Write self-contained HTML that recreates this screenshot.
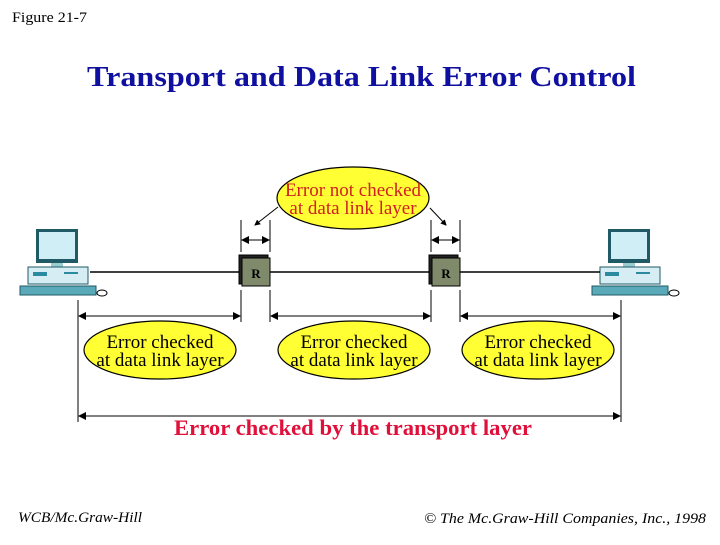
<!DOCTYPE html>
<html><head><meta charset="utf-8"><style>
body{margin:0;background:#fff;width:720px;height:540px;overflow:hidden}
</style></head><body>
<svg width="720" height="540" xmlns="http://www.w3.org/2000/svg" font-family="Liberation Serif, serif">
<defs>
<marker id="a" markerWidth="8" markerHeight="8" refX="7" refY="4" orient="auto-start-reverse" markerUnits="userSpaceOnUse"><path d="M0,0 L8,4 L0,8 z" fill="#000"/></marker>
<marker id="s" markerWidth="6" markerHeight="6" refX="5" refY="3" orient="auto" markerUnits="userSpaceOnUse"><path d="M0,0 L6,3 L0,6 z" fill="#000"/></marker>
<g id="pc">
<rect x="16" y="0" width="42" height="34" fill="#1f5a66"/>
<rect x="19" y="3" width="36" height="27" fill="#cfeef5"/>
<rect x="31" y="34" width="12" height="4" fill="#9cc"/>
<rect x="8" y="38" width="60" height="17" fill="#d6eef3" stroke="#1f5a66"/>
<rect x="13" y="43" width="14" height="4" fill="#2a8aa0"/>
<rect x="44" y="43" width="14" height="2" fill="#2a8aa0"/>
<rect x="0" y="57" width="76" height="9" fill="#5aa9b8" stroke="#1f5a66"/>
<ellipse cx="82" cy="64" rx="5" ry="3" fill="#fff" stroke="#000"/>
</g>
</defs>
<text x="12" y="22" font-size="15" textLength="75" lengthAdjust="spacingAndGlyphs">Figure 21-7</text>
<text x="87" y="86" font-size="29" font-weight="bold" fill="#1010a0" textLength="549" lengthAdjust="spacingAndGlyphs">Transport and Data Link Error Control</text>

<use href="#pc" x="20" y="229"/>
<use href="#pc" x="592" y="229"/>
<line x1="90" y1="272" x2="600" y2="272" stroke="#000" stroke-width="1.5"/>
<g stroke="#000" stroke-width="1">
<rect x="239" y="255" width="29" height="29" fill="#222"/>
<rect x="242" y="258" width="28" height="28" fill="#7f8a6a" stroke="#000"/>
<rect x="429" y="255" width="29" height="29" fill="#222"/>
<rect x="432" y="258" width="28" height="28" fill="#7f8a6a" stroke="#000"/>
</g>
<text x="256" y="278" font-size="13" font-weight="bold" text-anchor="middle">R</text>
<text x="446" y="278" font-size="13" font-weight="bold" text-anchor="middle">R</text>

<g stroke="#000" stroke-width="1">
<line x1="241" y1="220" x2="241" y2="252"/><line x1="270" y1="220" x2="270" y2="252"/>
<line x1="431" y1="220" x2="431" y2="252"/><line x1="460" y1="220" x2="460" y2="252"/>
<line x1="241" y1="290" x2="241" y2="322"/><line x1="270" y1="290" x2="270" y2="322"/>
<line x1="431" y1="290" x2="431" y2="322"/><line x1="460" y1="290" x2="460" y2="322"/>
<line x1="78" y1="300" x2="78" y2="422"/><line x1="621" y1="300" x2="621" y2="422"/>
<line x1="242" y1="240" x2="269" y2="240" marker-start="url(#a)" marker-end="url(#a)"/>
<line x1="432" y1="240" x2="459" y2="240" marker-start="url(#a)" marker-end="url(#a)"/>
<line x1="79" y1="316" x2="240" y2="316" marker-start="url(#a)" marker-end="url(#a)"/>
<line x1="271" y1="316" x2="430" y2="316" marker-start="url(#a)" marker-end="url(#a)"/>
<line x1="461" y1="316" x2="620" y2="316" marker-start="url(#a)" marker-end="url(#a)"/>
<line x1="79" y1="416" x2="620" y2="416" marker-start="url(#a)" marker-end="url(#a)"/>
<line x1="278" y1="207" x2="255" y2="225" marker-end="url(#s)"/>
<line x1="430" y1="208" x2="446" y2="225" marker-end="url(#s)"/>
</g>
<g fill="#ffff33" stroke="#000" stroke-width="1.2">
<ellipse cx="353" cy="198" rx="76" ry="31"/>
<ellipse cx="160" cy="350" rx="76" ry="29"/>
<ellipse cx="354" cy="350" rx="76" ry="29"/>
<ellipse cx="538" cy="350" rx="76" ry="29"/>
</g>
<g font-size="19" text-anchor="middle">
<text x="353" y="196" fill="#d02020">Error not checked</text>
<text x="353" y="214" fill="#d02020">at data link layer</text>
<text x="160" y="348">Error checked</text><text x="160" y="366">at data link layer</text>
<text x="354" y="348">Error checked</text><text x="354" y="366">at data link layer</text>
<text x="538" y="348">Error checked</text><text x="538" y="366">at data link layer</text>
</g>
<text x="174" y="435" font-size="22" font-weight="bold" fill="#e0103a" textLength="358" lengthAdjust="spacingAndGlyphs">Error checked by the transport layer</text>
<text x="18" y="522" font-size="15" font-style="italic" textLength="124" lengthAdjust="spacingAndGlyphs">WCB/Mc.Graw-Hill</text>
<text x="424" y="523" font-size="15" font-style="italic" textLength="282" lengthAdjust="spacingAndGlyphs">© The Mc.Graw-Hill Companies, Inc., 1998</text>
</svg>
</body></html>
